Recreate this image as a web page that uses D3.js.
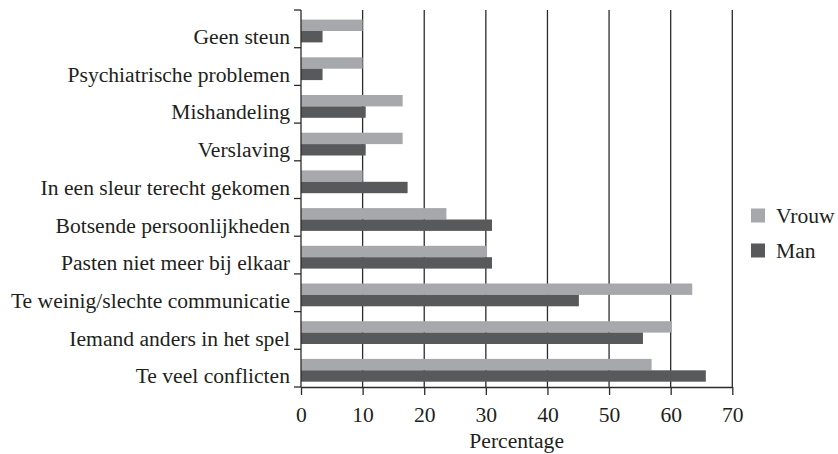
<!DOCTYPE html>
<html>
<head>
<meta charset="utf-8">
<script src="https://cdn.jsdelivr.net/npm/d3@7"></script>
<style>
  body { margin: 0; background: #fff; }
  svg text { font-family: "Liberation Serif", serif; fill: #231f20; }
</style>
</head>
<body>
<svg width="838" height="454"></svg>
<script>
let categories = [
    'Geen steun',
    'Psychiatrische problemen',
    'Mishandeling',
    'Verslaving',
    'In een sleur terecht gekomen',
    'Botsende persoonlijkheden',
    'Pasten niet meer bij elkaar',
    'Te weinig/slechte communicatie',
    'Iemand anders in het spel',
    'Te veel conflicten'
];
let vrouw = [10, 10, 16.5, 16.5, 10, 23.6, 30.2, 63.5, 60.2, 56.9];
let man = [3.5, 3.5, 10.5, 10.5, 17.3, 31, 31, 45.1, 55.5, 65.7];
let xTicks = [0, 10, 20, 30, 40, 50, 60, 70];
let seriesNames = ['Vrouw', 'Man'];
let seriesColors = ['#a7a8ab', '#58595b'];

let svg = d3.select("svg");

let plotLeft = 301, plotRight = 732.3, plotTop = 10, plotBottom = 387;
let fontsize = '21.6px';
let lineColor = '#2b2b2b';

let x = d3.scaleLinear().domain([0, 70]).range([plotLeft, plotRight]);
let y = d3.scaleBand().domain(categories).range([plotTop, plotBottom]);
let ySub = d3.scaleBand().domain(seriesNames).range([9.6, 32.4]);

// vertical gridlines
svg.append("g")
    .selectAll("line")
    .data(xTicks.slice(1))
    .join("line")
    .attr("x1", d => x(d))
    .attr("x2", d => x(d))
    .attr("y1", plotTop)
    .attr("y2", plotBottom)
    .attr("stroke", lineColor)
    .attr("stroke-width", 1.3);

// bars
let rows = categories.map((c, i) => ({cat: c, vals: [vrouw[i], man[i]]}));
let groups = svg.append("g")
    .selectAll("g")
    .data(rows)
    .join("g")
    .attr("transform", d => `translate(0,${y(d.cat)})`);

groups.selectAll("rect")
    .data(d => d.vals.map((v, j) => ({name: seriesNames[j], v: v, j: j})))
    .join("rect")
    .attr("x", x(0))
    .attr("y", d => ySub(d.name))
    .attr("width", d => x(d.v) - x(0))
    .attr("height", ySub.bandwidth())
    .attr("fill", d => seriesColors[d.j]);

// y axis line and ticks at band edges
let edges = categories.map(c => y(c)).concat([plotBottom]);
svg.append("line")
    .attr("x1", plotLeft).attr("x2", plotLeft)
    .attr("y1", plotTop).attr("y2", plotBottom)
    .attr("stroke", lineColor).attr("stroke-width", 1.3);
svg.append("g")
    .selectAll("line")
    .data(edges)
    .join("line")
    .attr("x1", plotLeft - 7).attr("x2", plotLeft)
    .attr("y1", d => d).attr("y2", d => d)
    .attr("stroke", lineColor).attr("stroke-width", 1.3);

svg.append("g")
    .selectAll("text")
    .data(categories)
    .join("text")
    .attr("x", plotLeft - 11)
    .attr("y", d => y(d) + 26.5)
    .attr("dy", "0.35em")
    .attr("text-anchor", "end")
    .style("font-size", fontsize)
    .text(d => d);

// x axis
let xAxis = svg.append("g")
    .attr("transform", `translate(0,${plotBottom})`)
    .call(d3.axisBottom(x).tickValues(xTicks).tickSize(8).tickPadding(12).tickSizeOuter(0));
xAxis.select(".domain").attr("stroke", lineColor).attr("stroke-width", 1.3);
xAxis.selectAll(".tick line").attr("stroke", lineColor).attr("stroke-width", 1.3);
xAxis.selectAll(".tick text")
    .style("font-size", fontsize)
    .style("font-family", '"Liberation Serif", serif')
    .attr("fill", "#231f20");

svg.append("text")
    .attr("x", (plotLeft + plotRight) / 2)
    .attr("y", 448)
    .attr("text-anchor", "middle")
    .style("font-size", fontsize)
    .text("Percentage");

// legend
let legend = svg.append("g")
    .selectAll("g")
    .data(seriesNames)
    .join("g")
    .attr("transform", (d, i) => `translate(751,${208.5 + i * 35})`);
legend.append("rect")
    .attr("width", 14).attr("height", 14)
    .attr("fill", (d, i) => seriesColors[i]);
legend.append("text")
    .attr("x", 25)
    .attr("y", 14)
    .style("font-size", fontsize)
    .text(d => d);
</script>
</body>
</html>
